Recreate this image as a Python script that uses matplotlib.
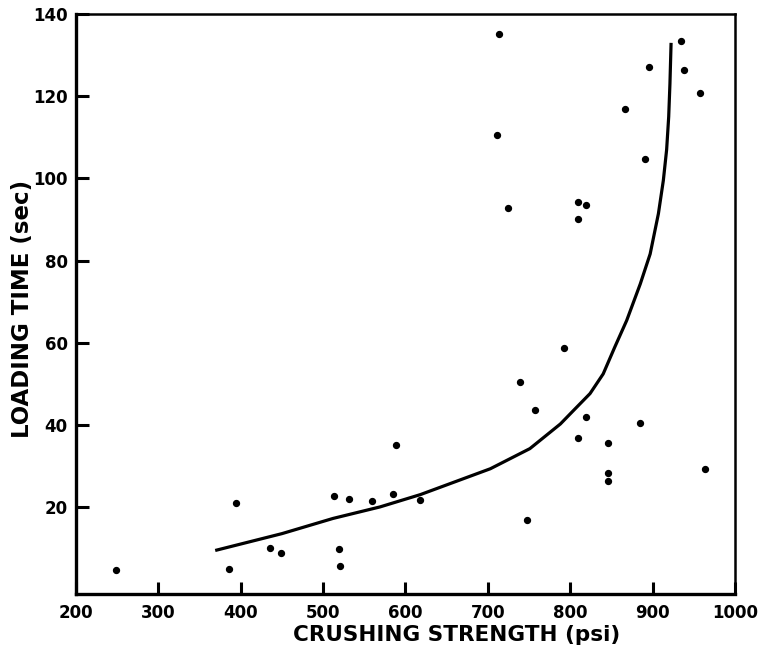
import numpy as np
import matplotlib
matplotlib.use("Agg")
import matplotlib.pyplot as plt

#measured points (crushing strength psi, loading time sec)
strength = [248, 386, 394, 435, 449, 513, 532, 559, 519, 520, 585, 589,
            618, 739, 757, 793, 747, 819, 809, 846, 846, 846, 885, 964,
            713, 711, 725, 810, 819, 809, 866, 891, 895, 934, 938, 957]
load_time = [4.7, 4.9, 21.0, 9.9, 8.7, 22.7, 21.9, 21.5, 9.8, 5.7, 23.2, 35.2,
             21.8, 50.4, 43.6, 58.7, 16.7, 42.0, 36.8, 35.5, 28.3, 26.2, 40.5, 29.2,
             135.2, 110.6, 92.9, 94.3, 93.4, 90.1, 116.9, 104.6, 127.2, 133.4, 126.5, 120.7]

#fitted curve
curve_x = [369, 450, 512, 569, 618, 703, 751, 788, 804, 824, 840, 854, 868.5,
           885, 897, 907, 913, 917, 919.5, 921, 922.4]
curve_y = [9.4, 13.5, 17.2, 20.0, 23.0, 29.3, 34.2, 40.2, 43.5, 47.6, 52.4, 58.9, 65.4,
           74.3, 81.6, 91.4, 99.5, 107, 115, 123, 133]

xticks = [200, 300, 400, 500, 600, 700, 800, 900, 1000]
yticks = [20, 40, 60, 80, 100, 120, 140]

fig = plt.figure(figsize=(7.69, 6.56), dpi=100)
ax = fig.add_axes([0.0988, 0.0945, 0.857, 0.884])

ax.scatter(strength, load_time, s=18, color="black", zorder=3)
ax.plot(curve_x, curve_y, color="black", lw=2.3, solid_capstyle="butt",
        solid_joinstyle="round")

ax.set_xlim(200, 1000)
ax.set_ylim(-1.2, 140)
ax.set_xticks(xticks)
ax.set_yticks(yticks)
ax.tick_params(direction="in", length=9, width=2.2, labelsize=12, pad=7)
ax.tick_params(axis="y", pad=6)
for lab in ax.get_xticklabels() + ax.get_yticklabels():
    lab.set_fontweight("bold")

for side in ["left", "bottom"]:
    ax.spines[side].set_linewidth(2.4)
for side in ["top", "right"]:
    ax.spines[side].set_linewidth(1.8)

ax.set_xlabel("CRUSHING STRENGTH (psi)", fontsize=15.5, fontweight="bold")
ax.xaxis.set_label_coords(0.577, -0.054)
ax.set_ylabel("LOADING TIME (sec)", fontsize=16.5, fontweight="bold")
ax.yaxis.set_label_coords(-0.064, 0.491)

fig.savefig("out.png", dpi=100)
